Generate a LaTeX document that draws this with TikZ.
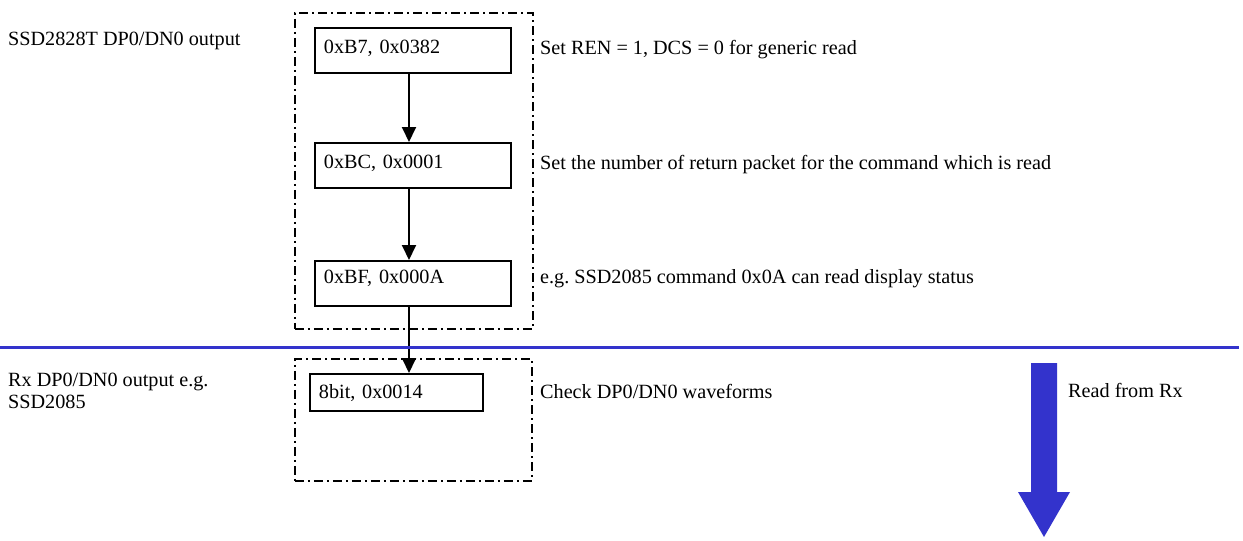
\documentclass[tikz,border=0pt]{standalone}
\usepackage{fontspec}
\setmainfont{Liberation Serif}
\usetikzlibrary{arrows.meta}
\definecolor{rxblue}{RGB}{51,51,204}
\begin{document}
\frenchspacing
\begin{tikzpicture}[x=1pt,y=-1pt,
  every node/.style={font=\fontsize{20.2}{22}\selectfont},
  regbox/.style={draw,line width=1.9pt,anchor=north west,inner xsep=9pt,inner ysep=0pt,align=left},
  note/.style={anchor=base west,inner sep=0pt},
  grp/.style={draw,line width=1.6pt,dash pattern=on 9pt off 4pt on 2pt off 4pt,anchor=north west,inner sep=0pt},
  flow/.style={line width=1.9pt,-{Triangle[length=15pt,width=14pt]}},
  sep/.style={rxblue,line width=3pt}]
\useasboundingbox (0,0) rectangle (1243,541);
% group frames
\node[grp,minimum width=238pt,minimum height=316pt] (g1) at (294,12) {};
\node[grp,minimum width=237pt,minimum height=122pt] (g2) at (294,358) {};
% register boxes
\node[regbox,text width=178pt,text height=26pt,text depth=19pt] (b7) at (314,27) {0xB7, 0x0382};
\node[regbox,text width=178pt,text height=26pt,text depth=19pt] (bc) at (314,142) {0xBC, 0x0001};
\node[regbox,text width=178pt,text height=23pt,text depth=22pt] (bf) at (314,260) {0xBF, 0x000A};
\node[regbox,text width=155pt,text height=25pt,text depth=12pt] (b8) at (309,373) {8bit, 0x0014};
% connectors
\coordinate (ax) at (409,0);
\draw[flow] (b7.south -| ax) -- (bc.north -| ax);
\draw[flow] (bc.south -| ax) -- (bf.north -| ax);
\draw[flow] (bf.south -| ax) -- (b8.north -| ax);
% separator line
\coordinate (L0) at (0,347);
\coordinate (L1) at (1239,347);
\draw[sep] (L0) -- (L1);
% big arrow
\fill[rxblue] (1031,363) -- (1057,363) -- (1057,492) -- (1070,492) -- (1044,537) -- (1018,492) -- (1031,492) -- cycle;
% texts
\node[note] (t0) at (8,45) {SSD2828T DP0/DN0 output};
\node[note] (t1) at (540,54) {Set REN = 1, DCS = 0 for generic read};
\node[note] (t2) at (540,169) {Set the number of return packet for the command which is read};
\node[note] (t3) at (540,283) {e.g. SSD2085 command 0x0A can read display status};
\node[note] (t4) at (540,398) {Check DP0/DN0 waveforms};
\node[note,align=left] (t5) at (8,408) {Rx DP0/DN0 output e.g.\\SSD2085};
\node[note] (t6) at (1068,397) {Read from Rx};
\end{tikzpicture}
\end{document}
